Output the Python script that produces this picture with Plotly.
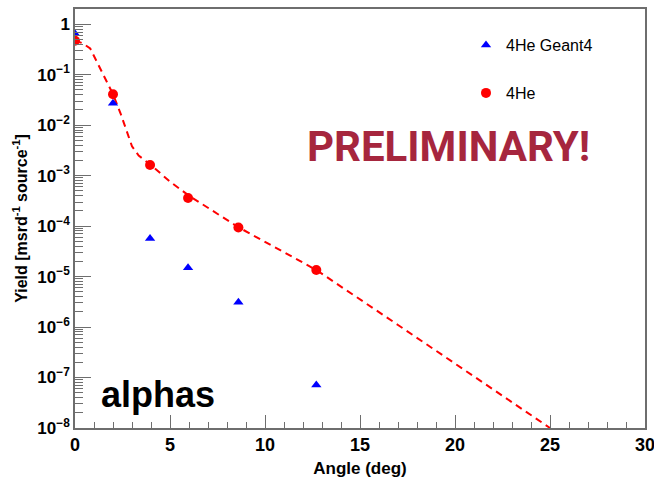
import plotly.graph_objects as go

# ---- data ----
angle_pts = [0.0, 2.0, 3.95, 5.95, 8.6, 12.7]
yield_he4 = [0.47, 0.041, 0.00162, 3.6e-4, 9.4e-5, 1.35e-5]
yield_geant4 = [0.65, 0.027, 5.7e-5, 1.5e-5, 3.1e-6, 7.1e-8]

fit_angle = [0.0, 0.4, 0.8, 1.15, 1.6, 2.0, 2.4, 2.75, 3.0, 3.35, 4.0, 5.0, 6.0, 8.6, 12.7, 17.0, 21.0, 25.0]
fit_yield = [0.47, 0.42, 0.33, 0.18, 0.085, 0.041, 0.017, 0.0069, 0.0038, 0.0025, 0.00162,
             7.6e-4, 4.0e-4, 9.5e-5, 1.35e-5, 1.1e-6, 1.05e-7, 1.0e-8]

x_tickvals = [0, 5, 10, 15, 20, 25, 30]
x_ticktext = ["0", "5", "10", "15", "20", "25", "30"]
y_exponents = [-8, -7, -6, -5, -4, -3, -2, -1, 0]
y_ticktext = ["10<sup>−8</sup>", "10<sup>−7</sup>", "10<sup>−6</sup>", "10<sup>−5</sup>",
              "10<sup>−4</sup>", "10<sup>−3</sup>", "10<sup>−2</sup>", "10<sup>−1</sup>", "1"]

W, H = 654, 478
L, R, T, B = 75, 9, 9, 50
axis_col = "#6e6e6e"
FONT = "Liberation Sans, Arial, sans-serif"

y_tickvals = [10.0 ** e for e in y_exponents]
y_minor = [m * 10.0 ** e for e in y_exponents[:-1] for m in range(2, 10)] + [2.0]
x_minor = [v for v in range(0, 31) if v % 5 != 0]

fig = go.Figure()
fig.add_trace(go.Scatter(
    x=fit_angle, y=fit_yield, mode="lines", showlegend=False,
    line=dict(color="#ff0000", width=2, dash="7px,5px"), hoverinfo="skip"))
fig.add_trace(go.Scatter(
    x=angle_pts, y=yield_geant4, mode="markers", name="4He Geant4", legend="legend",
    marker=dict(symbol="triangle-up", size=9, color="#0000ff")))
fig.add_trace(go.Scatter(
    x=angle_pts, y=yield_he4, mode="markers", name="4He", legend="legend2",
    marker=dict(symbol="circle", size=10, color="#ff0000")))

pw = W - L - R
ph = H - T - B
def px_x(p):
    return (p - L) / pw
def px_y(p):
    return (H - B - p) / ph

legend_common = dict(bgcolor="rgba(0,0,0,0)", borderwidth=0,
                     font=dict(family=FONT, size=16, color="#000000"),
                     xanchor="left", yanchor="middle")

fig.update_layout(
    width=W, height=H,
    margin=dict(l=L, r=R, t=T, b=B, autoexpand=False),
    paper_bgcolor="white", plot_bgcolor="white",
    font=dict(family=FONT, color="#000000"),
    legend=dict(x=px_x(466), y=px_y(45), **legend_common),
    legend2=dict(x=px_x(466), y=px_y(93), **legend_common),
    xaxis=dict(
        range=[0, 30], showgrid=False, zeroline=False, automargin=False,
        showline=True, linecolor=axis_col, linewidth=1.5, mirror=True,
        ticks="inside", ticklen=13, tickwidth=1, tickcolor=axis_col,
        tickvals=x_tickvals, ticktext=x_ticktext, ticklabeloverflow="allow",
        tickfont=dict(family=FONT, size=18, weight="bold", color="#000000"),
        minor=dict(tickvals=x_minor, ticks="inside", ticklen=6, tickwidth=1,
                   tickcolor=axis_col, showgrid=False),
        title=dict(text="Angle (deg)", standoff=8,
                   font=dict(family=FONT, size=17, weight="bold", color="#000000")),
    ),
    yaxis=dict(
        type="log", range=[-8, 0.301], showgrid=False, zeroline=False, automargin=False,
        showline=True, linecolor=axis_col, linewidth=1.5, mirror=True,
        ticks="inside", ticklen=16, tickwidth=1, tickcolor=axis_col,
        tickvals=y_tickvals, ticktext=y_ticktext, ticklabeloverflow="allow",
        tickfont=dict(family=FONT, size=17, weight="bold", color="#000000"),
        minor=dict(tickvals=y_minor, ticks="inside", ticklen=8, tickwidth=1,
                   tickcolor=axis_col, showgrid=False),
        title=dict(text="Yield [msrd<sup>-1</sup> source<sup>-1</sup>]", standoff=6,
                   font=dict(family=FONT, size=16, weight="bold", color="#000000")),
    ),
    annotations=[
        dict(text="PRELIMINARY!", xref="paper", yref="paper",
             x=px_x(448), y=px_y(146), xanchor="center", yanchor="middle",
             showarrow=False,
             font=dict(family="Roboto, Liberation Sans, sans-serif",
                       size=42, weight="bold", color="#a6263e")),
        dict(text="alphas", xref="paper", yref="paper",
             x=px_x(158), y=px_y(394), xanchor="center", yanchor="middle",
             showarrow=False,
             font=dict(family=FONT, size=36, weight="bold", color="#000000")),
    ],
)

fig.write_html("out.html")
